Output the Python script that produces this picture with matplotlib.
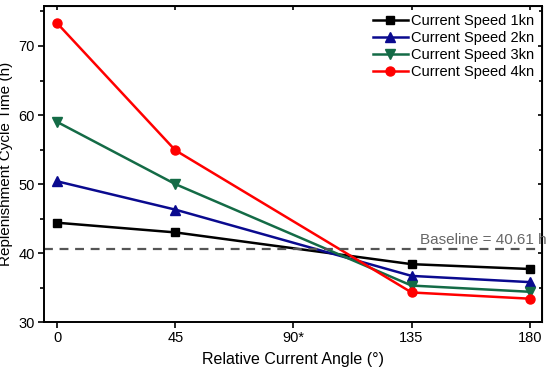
import matplotlib.pyplot as plt

plt.rcParams["font.family"] = ["Liberation Sans", "DejaVu Sans"]

# relative current angle (deg), no simulation at 90
angles = [0, 45, 135, 180]
tick_pos = [0, 45, 90, 135, 180]
tick_labels = ["0", "45", "90*", "135", "180"]

speed_1kn = [44.4, 43.0, 38.4, 37.7]
speed_2kn = [50.4, 46.3, 36.7, 35.8]
speed_3kn = [59.0, 50.0, 35.3, 34.4]
speed_4kn = [73.3, 54.9, 34.3, 33.4]
baseline = 40.61

fig = plt.figure(figsize=(5.5, 3.72), dpi=100)
ax = fig.add_axes([0.08, 0.134, 0.905, 0.85])

ax.plot(angles, speed_1kn, color="black", marker="s", lw=1.8, ms=6, label="Current Speed 1kn")
ax.plot(angles, speed_2kn, color="#0a0a8f", marker="^", lw=1.8, ms=6.5, label="Current Speed 2kn")
ax.plot(angles, speed_3kn, color="#146b46", marker="v", lw=1.8, ms=6.5, label="Current Speed 3kn")
ax.plot(angles, speed_4kn, color="#ff0000", marker="o", lw=1.8, ms=6.5, label="Current Speed 4kn")

ax.axhline(baseline, color="#555555", ls=(0, (4, 3)), lw=1.6)
ax.text(186.5, baseline + 0.25, f"Baseline = {baseline} h", color="#666666",
        ha="right", va="bottom", fontsize=11, clip_on=False)

ax.set_xlim(-5, 184.6)
ax.set_ylim(30, 75.8)
ax.set_xticks(tick_pos)
ax.set_xticklabels(tick_labels)
ax.set_yticks([30, 40, 50, 60, 70])
ax.set_yticks([35, 45, 55, 65, 75], minor=True)
ax.tick_params(labelsize=10.5, width=1.2, length=4, pad=2.5)
ax.tick_params(axis="y", which="minor", width=1.2, length=3)

# mirrored inner ticks on top / right
top = ax.secondary_xaxis("top")
top.set_xticks(tick_pos)
top.tick_params(direction="in", labeltop=False, length=3, width=1.2)
right = ax.secondary_yaxis("right")
right.set_yticks([30, 40, 50, 60, 70])
right.set_yticks([35, 45, 55, 65, 75], minor=True)
right.tick_params(direction="in", labelright=False, length=3, width=1.2)
right.tick_params(which="minor", direction="in", length=2, width=1.2)

for s in ax.spines.values():
    s.set_linewidth(1.4)

ax.set_xlabel("Relative Current Angle (°)", fontsize=11.5, labelpad=5)
ax.set_ylabel("Replenishment Cycle Time (h)", fontsize=11, labelpad=4)

ax.legend(loc="upper right", frameon=False, fontsize=10.5, handlelength=2.4,
          handletextpad=0.2, labelspacing=0.2, borderaxespad=0.15)

fig.savefig("out.png", dpi=100)
